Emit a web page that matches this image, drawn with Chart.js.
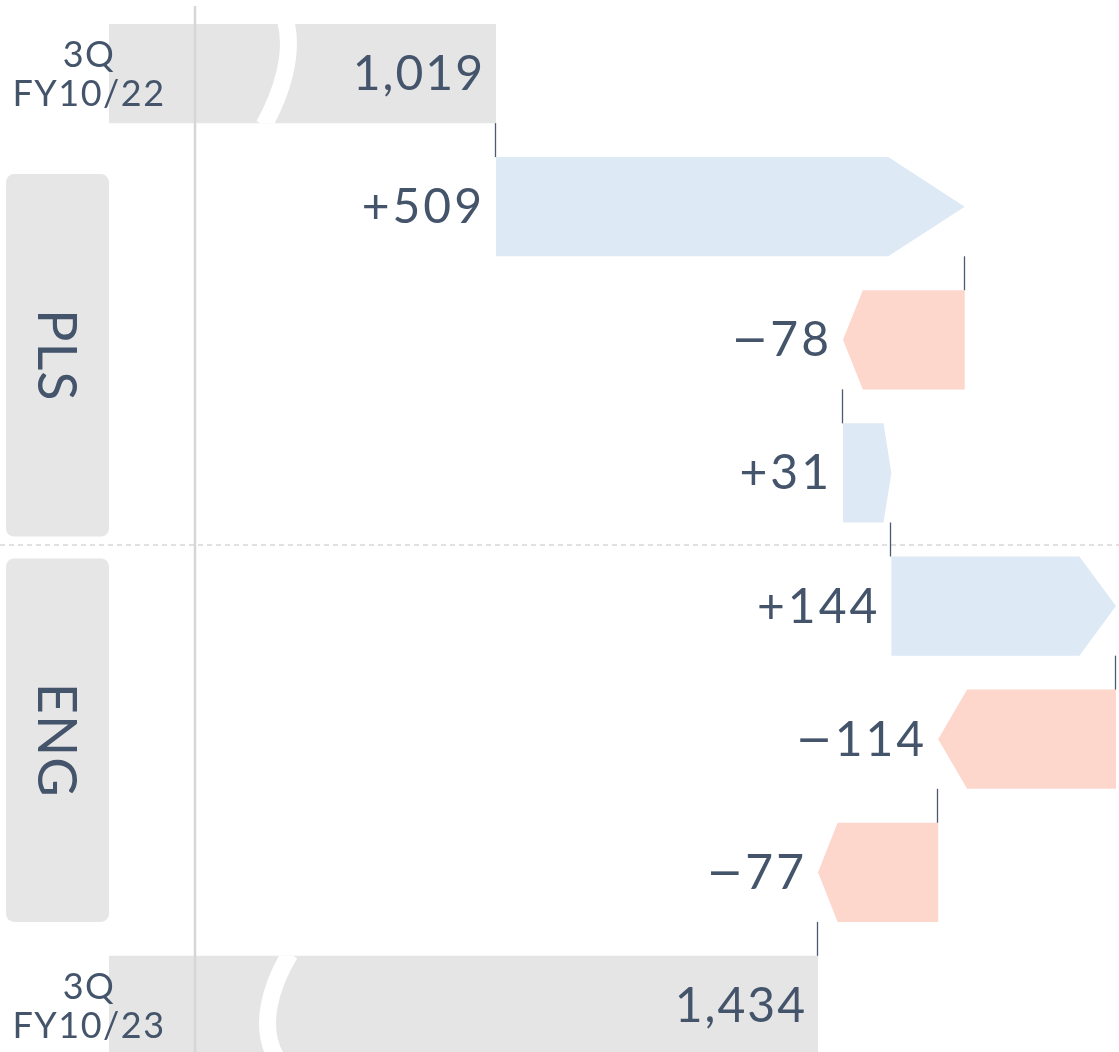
<!DOCTYPE html>
<html>
<head>
<meta charset="utf-8">
<script src="https://cdn.jsdelivr.net/npm/chart.js@4.4.1/dist/chart.umd.min.js"></script>
<style>
  html, body { margin: 0; padding: 0; background: #fff; overflow: hidden; }
  #wrap { width: 1119px; height: 1072px; position: relative; }
</style>
</head>
<body>
<div id="wrap"><canvas id="bridge"></canvas></div>
<script>
// 数据
const startLabel = ['3Q', 'FY10/22'];
const endLabel = ['3Q', 'FY10/23'];
const startTotal = 1019;
const endTotal = 1434;
const deltas = [509, -78, 31, 144, -114, -77];
const groupNames = ['PLS', 'ENG'];
const groupRows = [[1, 3], [4, 6]];

const textColor = '#44546a';
const font = 'Lato, "Open Sans", sans-serif';

// 累计值 -> 浮动条
const rows = [[0, startTotal]];
let running = startTotal;
deltas.forEach(d => {
    rows.push([running, running + d]);
    running += d;
});
rows.push([0, endTotal]);
const rowNames = ['start', ...deltas.map((d, i) => 'd' + i), 'end'];

// 断轴：分段线性刻度
class BrokenLinearScale extends Chart.LinearScale {
    getPixelForValue(value) {
        const stops = this.options.stops;
        if (value == null || isNaN(value)) return NaN;
        let i = 0;
        while (i < stops.length - 2 && value > stops[i + 1][0]) i++;
        const [v0, f0] = stops[i];
        const [v1, f1] = stops[i + 1];
        const dec = f0 + (value - v0) / (v1 - v0) * (f1 - f0);
        return this.getPixelForDecimal(dec);
    }
    getValueForPixel(pixel) {
        const stops = this.options.stops;
        const dec = this.getDecimalForPixel(pixel);
        let i = 0;
        while (i < stops.length - 2 && dec > stops[i + 1][1]) i++;
        const [v0, f0] = stops[i];
        const [v1, f1] = stops[i + 1];
        return v0 + (dec - f0) / (f1 - f0) * (v1 - v0);
    }
}
BrokenLinearScale.id = 'brokenLinear';
BrokenLinearScale.defaults = Chart.LinearScale.defaults;
Chart.register(BrokenLinearScale);

const isTotal = i => i === 0 || i === rows.length - 1;

const bridgePlugin = {
    id: 'bridge',
    beforeDatasetsDraw(chart) {
        const { ctx, chartArea } = chart;
        const meta = chart.getDatasetMeta(0);
        ctx.save();
        // 分组框
        const boxInset = [[17, 14], [2, 0]];
        groupRows.forEach(([a, b], g) => {
            const ea = meta.data[a], eb = meta.data[b];
            const top = ea.y - ea.height / 2 + boxInset[g][0];
            const bottom = eb.y + eb.height / 2 + boxInset[g][1];
            ctx.fillStyle = '#e6e6e6';
            ctx.beginPath();
            ctx.roundRect(6, top, 103, bottom - top, 8);
            ctx.fill();
            ctx.save();
            ctx.translate(57.5, (top + bottom) / 2);
            ctx.rotate(Math.PI / 2);
            ctx.fillStyle = textColor;
            ctx.font = '54px ' + font;
            ctx.letterSpacing = '1px';
            ctx.textAlign = 'center';
            ctx.textBaseline = 'middle';
            ctx.fillText(groupNames[g], 0, 2);
            ctx.restore();
        });
        // 分隔虚线
        const sepY = (meta.data[3].y + meta.data[4].y) / 2 + 5;
        ctx.strokeStyle = '#c2c2c2';
        ctx.lineWidth = 1;
        ctx.setLineDash([5, 4]);
        ctx.beginPath();
        ctx.moveTo(0, sepY + 0.5);
        ctx.lineTo(chartArea.right, sepY + 0.5);
        ctx.stroke();
        ctx.restore();
    },
    afterDatasetsDraw(chart) {
        const { ctx, chartArea, scales } = chart;
        const meta = chart.getDatasetMeta(0);
        ctx.save();
        // 箭头条
        meta.data.forEach((el, i) => {
            if (isTotal(i)) return;
            const d = deltas[i - 1];
            const left = Math.min(el.x, el.base), right = Math.max(el.x, el.base);
            const top = el.y - el.height / 2, bottom = el.y + el.height / 2;
            const tip = (right - left) * 0.163;
            ctx.fillStyle = d > 0 ? '#dde9f5' : '#fdd6cc';
            ctx.beginPath();
            if (d > 0) {
                ctx.moveTo(left, top);
                ctx.lineTo(right - tip, top);
                ctx.lineTo(right, el.y);
                ctx.lineTo(right - tip, bottom);
                ctx.lineTo(left, bottom);
            } else {
                ctx.moveTo(right, top);
                ctx.lineTo(left + tip, top);
                ctx.lineTo(left, el.y);
                ctx.lineTo(left + tip, bottom);
                ctx.lineTo(right, bottom);
            }
            ctx.closePath();
            ctx.fill();
        });
        // 断轴波浪
        const bx = scales.x.getPixelForValue(450);
        [0, rows.length - 1].forEach((i, k) => {
            const el = meta.data[i];
            const top = el.y - el.height / 2, h = el.height;
            ctx.save();
            ctx.beginPath();
            ctx.rect(el.base, top, el.x - el.base, h);
            ctx.clip();
            ctx.strokeStyle = '#ffffff';
            ctx.lineWidth = 17;
            ctx.beginPath();
            if (k === 0) {
                ctx.moveTo(bx + 6, top - 2);
                ctx.bezierCurveTo(bx + 14, top + 0.3 * h, bx + 2, top + 0.7 * h, bx - 16, top + h + 2);
            } else {
                ctx.moveTo(bx + 10, top - 2);
                ctx.bezierCurveTo(bx - 8, top + 0.28 * h, bx - 22, top + 0.7 * h, bx - 4, top + h + 2);
            }
            ctx.stroke();
            ctx.restore();
        });
        // 竖线
        ctx.strokeStyle = '#d6d6d6';
        ctx.lineWidth = 2.5;
        ctx.beginPath();
        ctx.moveTo(195, chartArea.top - 1);
        ctx.lineTo(195, chartArea.bottom);
        ctx.stroke();
        // 连接线
        ctx.strokeStyle = '#4a5a70';
        ctx.lineWidth = 1.3;
        for (let i = 0; i < meta.data.length - 1; i++) {
            const a = meta.data[i], b = meta.data[i + 1];
            const v = rows[i][1];
            const x = Math.round(scales.x.getPixelForValue(v)) - 0.5;
            ctx.beginPath();
            ctx.moveTo(x, a.y + a.height / 2);
            ctx.lineTo(x, b.y - b.height / 2);
            ctx.stroke();
        }
        // 数值标签
        ctx.fillStyle = textColor;
        ctx.textBaseline = 'middle';
        ctx.textAlign = 'right';
        meta.data.forEach((el, i) => {
            ctx.font = '48px ' + font;
            if (isTotal(i)) {
                ctx.letterSpacing = '2px';
                const v = i === 0 ? startTotal : endTotal;
                ctx.fillText(v.toLocaleString('en-US'), el.x - 11, el.y + 1);
                return;
            }
            ctx.letterSpacing = '3px';
            const d = deltas[i - 1];
            const left = Math.min(el.x, el.base);
            const num = (d > 0 ? '+' : '') + Math.abs(d);
            ctx.fillText(num, left - 11, el.y + 1);
            if (d < 0) {
                const w = ctx.measureText(num).width;
                ctx.letterSpacing = '0px';
                ctx.font = '44px "DejaVu Sans"';
                ctx.fillText('\u2212', left - 11 - w - 2, el.y + 3);
            }
        });
        // 期间标签
        ctx.textAlign = 'center';
        ctx.font = '36px ' + font;
        ctx.letterSpacing = '1.5px';
        [[0, startLabel], [rows.length - 1, endLabel]].forEach(([i, lines]) => {
            const el = meta.data[i];
            ctx.fillText(lines[0], 89, el.y - 18);
            ctx.fillText(lines[1], 89, el.y + 21);
        });
        ctx.restore();
    }
};

new Chart(document.getElementById('bridge'), {
    type: 'bar',
    data: {
        labels: rowNames,
        datasets: [{
            data: rows,
            backgroundColor: rows.map((r, i) => isTotal(i) ? '#e5e5e5' : 'rgba(0,0,0,0)'),
            borderWidth: 0,
            borderSkipped: false,
            categoryPercentage: 1,
            barPercentage: 0.745
        }]
    },
    options: {
        indexAxis: 'y',
        responsive: true,
        maintainAspectRatio: false,
        animation: false,
        layout: { padding: { top: 7, left: 0, right: 0, bottom: 0 } },
        plugins: { legend: { display: false }, tooltip: { enabled: false } },
        scales: {
            x: {
                type: 'brokenLinear',
                display: false,
                min: 0,
                max: 1640,
                stops: [[0, 109 / 1119], [1019, 496 / 1119], [1420, 796.2 / 1119], [1640, 1139.4 / 1119]]
            },
            y: { display: false }
        }
    },
    plugins: [bridgePlugin]
});
</script>
</body>
</html>
